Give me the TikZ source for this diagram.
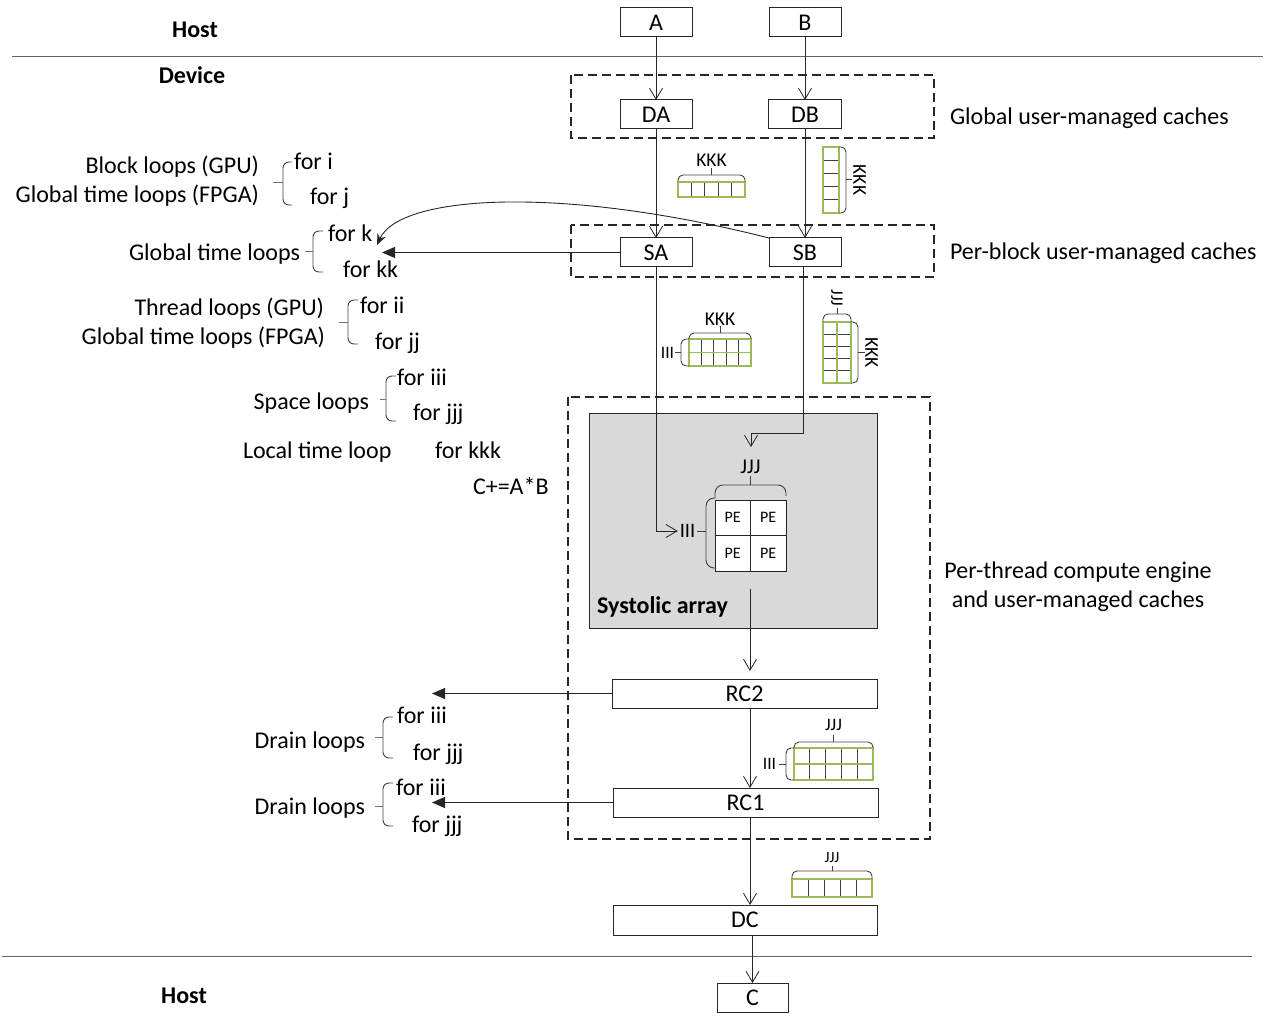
\documentclass[tikz,border=0pt]{standalone}
\usepackage{fontspec}
\setmainfont{Carlito}
\usetikzlibrary{arrows.meta}
\definecolor{cgreen}{RGB}{155,187,89}
\definecolor{sgray}{RGB}{217,217,217}
\definecolor{lgray}{RGB}{64,64,64}
\newcommand{\fsz}[1]{\fontsize{#1}{#1}\selectfont}
\begin{document}
\begin{tikzpicture}[x=1pt,y=-1pt,
  every node/.style={inner sep=0pt, outer sep=0pt, font=\fsz{24}},
  box/.style={draw=black!85, line width=1pt, minimum height=29pt, fill=white},
  pe/.style={draw=black!85, line width=1pt, fill=white, minimum size=35.5pt, font=\fsz{16}},
  dbox/.style={draw=black!85, line width=1.2pt, dash pattern=on 9pt off 5pt},
  conn/.style={draw=black!85, line width=0.9pt},
  oarr/.style={conn, -{Straight Barb[length=11pt,width=13pt,line width=0.8pt]}},
  farr/.style={conn, -{Triangle[length=13pt,width=11pt]}},
  carr/.style={conn, -{Stealth[length=11pt,width=9pt]}},
  brk/.style={draw=lgray, line width=0.9pt, rounded corners=6pt},
  tick/.style={draw=black!55, line width=1pt},
  sep/.style={draw=black!60, line width=1pt},
  gbox/.style={draw=cgreen, line width=1.8pt},
  gline/.style={draw=cgreen, line width=1.6pt},
  kline/.style={draw=lgray, line width=1pt},
  clab/.style={font=\fsz{19.5}},
  slab/.style={font=\fsz{17.5}},
  hdr/.style={font=\bfseries\fsz{24}, anchor=base},
  lt/.style={anchor=base west},
  rt/.style={anchor=base east}
]
\useasboundingbox (0,0) rectangle (1271,1024);

% separators
\draw[sep] (12,57) -- (1263,57);
\draw[sep] (2,956) -- (1252,956);
\node[hdr] (host1) at (195,38) {Host};
\node[hdr] (dev) at (192,84) {Device};
\node[hdr] (host2) at (184,1003) {Host};

% dashed regions
\draw[dbox] (571,75) rectangle (934,138);
\draw[dbox] (571,225) rectangle (934,277);
\draw[dbox] (568,397) rectangle (930,839);

\node[lt] (glab1) at (950,125) {Global user-managed caches};
\node[lt] (glab2) at (950,260) {Per-block user-managed caches};
\node[anchor=base] (glab3) at (1078,578) {Per-thread compute engine};
\node[anchor=base] (glab4) at (1078,607) {and user-managed caches};

% systolic array
\node[draw=black!85, line width=1pt, fill=sgray, minimum width=288pt, minimum height=215pt] (SYS) at (733,520.5) {};
\node[lt, font=\bfseries\fsz{24}] (syslab) at (597,613) {Systolic array};

% boxes
\node[box, minimum width=72pt] (A) at (656,22.5) {A};
\node[box, minimum width=72pt] (B) at (805,22.5) {B};
\node[box, minimum width=72pt] (DA) at (656,114.5) {DA};
\node[box, minimum width=73pt] (DB) at (805,114.5) {DB};
\node[box, minimum width=72pt] (SA) at (656,252.5) {SA};
\node[box, minimum width=72pt] (SB) at (805,252.5) {SB};
\node[box, minimum width=265pt] (RC2) at (744.5,693.5) {RC2};
\node[box, minimum width=265pt] (RC1) at (745.5,802.5) {RC1};
\node[box, minimum width=264pt, minimum height=30pt] (DC) at (745,920) {DC};
\node[box, minimum width=71pt] (C) at (752.5,997.5) {C};

% PE grid
\node[pe] (PE1) at (732.75,517.75) {PE};
\node[pe] (PE2) at (768.25,517.75) {PE};
\node[pe] (PE3) at (732.75,553.25) {PE};
\node[pe] (PE4) at (768.25,553.25) {PE};
\draw[brk, rounded corners=8pt] (715,497) -- (715,485) -- (786,485) -- (786,496);
\draw[tick, draw=lgray] (750.5,485) -- (750.5,476);
\node[font=\fsz{21}] (JJJpe) at (750.5,467) {JJJ};
\draw[brk, rounded corners=8pt] (716,498) -- (706,498) -- (706,568) -- (716,568);
\draw[tick, draw=lgray] (697,531) -- (706,531);
\node[font=\fsz{20.5}] (IIIpe) at (687.5,531) {III};

% connectors
\coordinate (sbturn) at (751,433);
\coordinate (sbtip) at (751,447);
\coordinate (sysout) at (750,589);
\coordinate (rc2tip) at (750,671);
\coordinate (ktip) at (382,252.5);
\coordinate (ktip2) at (377,245);
\coordinate (d1tip) at (432,693.5);
\coordinate (d2tip) at (432,802.5);

\draw[oarr] (A) -- (DA);
\draw[oarr] (B) -- (DB);
\draw[oarr] (DA) -- (SA);
\draw[oarr] (DB) -- (SB);
\draw[oarr, shorten >=2pt] (SA.south) |- (IIIpe.west);
\draw[oarr] ([xshift=-2pt]SB.south) |- (sbturn) -- (sbtip);
\draw[farr] (SA.west) -- (ktip);
\draw[carr] (SB.north west) .. controls (560,185) and (400,195) .. (ktip2);
\draw[oarr] (sysout) -- (rc2tip);
\draw[oarr] (RC2.south -| rc2tip) -- (RC1.north -| rc2tip);
\draw[oarr] (RC1.south -| rc2tip) -- (DC.north -| rc2tip);
\draw[oarr] (DC.south -| C) -- (C.north);
\draw[farr] (RC2.west) -- (d1tip);
\draw[farr] (RC1.west) -- (d2tip);

% loop labels
\node[rt] (bl1) at (259,174) {Block loops (GPU)};
\node[rt] (bl2) at (259,203) {Global time loops (FPGA)};
\draw[brk] (292,162) -- (283,162) -- (283,205) -- (292,205);
\draw[tick] (273,183) -- (283,183);
\node[lt] (fi) at (294,170) {for i};
\node[lt] (fj) at (310,205) {for j};

\node[rt] (gt) at (300,261) {Global time loops};
\draw[brk] (323,231) -- (313,231) -- (313,272) -- (323,272);
\draw[tick] (305,252) -- (313,252);
\node[lt] (fk) at (328,242) {for k};
\node[lt] (fkk) at (343,277) {for kk};

\node[rt] (tl1) at (324,315) {Thread loops (GPU)};
\node[rt] (tl2) at (325,344) {Global time loops (FPGA)};
\draw[brk] (358,300) -- (348,300) -- (348,344) -- (358,344);
\draw[tick] (339,322) -- (348,322);
\node[lt] (fii) at (360,313) {for ii};
\node[lt] (fjj) at (375,349) {for jj};

\node[rt] (sl) at (369,409) {Space loops};
\draw[brk] (396,376) -- (386,376) -- (386,421) -- (396,421);
\draw[tick] (380,399) -- (386,399);
\node[lt] (fiii) at (397,385) {for iii};
\node[lt] (fjjj) at (413,420) {for jjj};

\node[lt] (ltl) at (243,458) {Local time loop};
\node[lt] (fkkk) at (435,458) {for kkk};
\node[lt] (cab) at (473,494) {C+=A*B};

\node[rt] (dl1) at (365,748) {Drain loops};
\draw[brk] (393,717) -- (383,717) -- (383,758) -- (393,758);
\draw[tick] (375,737) -- (383,737);
\node[lt] (d1i) at (397,723) {for iii};
\node[lt] (d1j) at (413,760) {for jjj};

\node[rt] (dl2) at (365,814) {Drain loops};
\draw[brk] (393,783) -- (383,783) -- (383,826) -- (393,826);
\draw[tick] (375,806) -- (383,806);
\node[lt] (d2i) at (396,795) {for iii};
\node[lt] (d2j) at (412,832) {for jjj};

% cache icon 1 (DA -> SA)
\foreach \k in {1,...,4} \draw[kline] ({678+\k*13.4},182) -- ({678+\k*13.4},197);
\draw[gbox] (678,182) rectangle (745,197);
\draw[brk, rounded corners=5pt] (678,182) -- (678,175) -- (745,175) -- (745,182);
\draw[tick, draw=lgray] (711.5,175) -- (711.5,168);
\node[clab] (c1k) at (711.5,160) {KKK};

% cache icon 2 (DB -> SB)
\foreach \k in {1,...,4} \draw[kline] (823,{147+\k*13.2}) -- (839,{147+\k*13.2});
\draw[gbox] (823,147) rectangle (839,213);
\draw[brk, rounded corners=5pt] (839,147) -- (846,147) -- (846,213) -- (839,213);
\draw[tick, draw=lgray] (846,180) -- (852,180);
\node[clab, rotate=-90] (c2k) at (859.5,180) {KKK};

% cache icon 3 (SA -> array)
\foreach \k in {1,...,4} \draw[kline] ({689+\k*12.4},339) -- ({689+\k*12.4},366);
\draw[gline] (689,352.5) -- (751,352.5);
\draw[gbox] (689,339) rectangle (751,366);
\draw[brk, rounded corners=5pt] (689,339) -- (689,333) -- (751,333) -- (751,339);
\draw[tick, draw=lgray] (720,333) -- (720,326);
\node[clab] (c3k) at (720,319) {KKK};
\draw[brk, rounded corners=5pt] (689,339) -- (681,339) -- (681,366) -- (689,366);
\draw[tick, draw=lgray] (675,352.5) -- (681,352.5);
\node[slab] (c3i) at (667.5,352.5) {III};

% cache icon 4 (SB -> array)
\foreach \k in {1,...,4} \draw[kline] (823,{322+\k*12.2}) -- (851,{322+\k*12.2});
\draw[gline] (837,322) -- (837,383);
\draw[gbox] (823,322) rectangle (851,383);
\draw[brk, rounded corners=5pt] (823,322) -- (823,314) -- (851,314) -- (851,322);
\draw[tick, draw=lgray] (837,314) -- (837,308);
\node[slab, rotate=-90] (c4j) at (837,298) {JJJ};
\draw[brk, rounded corners=5pt] (851,322) -- (858,322) -- (858,383) -- (851,383);
\draw[tick, draw=lgray] (858,352.5) -- (865,352.5);
\node[clab, rotate=-90] (c4k) at (871.5,352.5) {KKK};

% cache icon 5 (RC2 -> RC1)
\foreach \k in {1,...,4} \draw[kline] ({794+\k*15.8},748) -- ({794+\k*15.8},780);
\draw[gline] (794,764) -- (873,764);
\draw[gbox] (794,748) rectangle (873,780);
\draw[brk, rounded corners=5pt] (794,748) -- (794,742) -- (873,742) -- (873,748);
\draw[tick, draw=lgray] (833.5,742) -- (833.5,735);
\node[slab] (c5j) at (833.5,725) {JJJ};
\draw[brk, rounded corners=5pt] (794,748) -- (786,748) -- (786,780) -- (794,780);
\draw[tick, draw=lgray] (779,764) -- (786,764);
\node[slab] (c5i) at (769.5,764) {III};

% cache icon 6 (RC1 -> DC)
\foreach \k in {1,...,4} \draw[kline] ({792+\k*16},879) -- ({792+\k*16},897);
\draw[gbox] (792,879) rectangle (872,897);
\draw[brk, rounded corners=5pt] (792,879) -- (792,871) -- (872,871) -- (872,879);
\draw[tick, draw=lgray] (832,871) -- (832,866);
\node[font=\fsz{15.5}] (c6j) at (832,857.5) {JJJ};
\end{tikzpicture}
\end{document}
